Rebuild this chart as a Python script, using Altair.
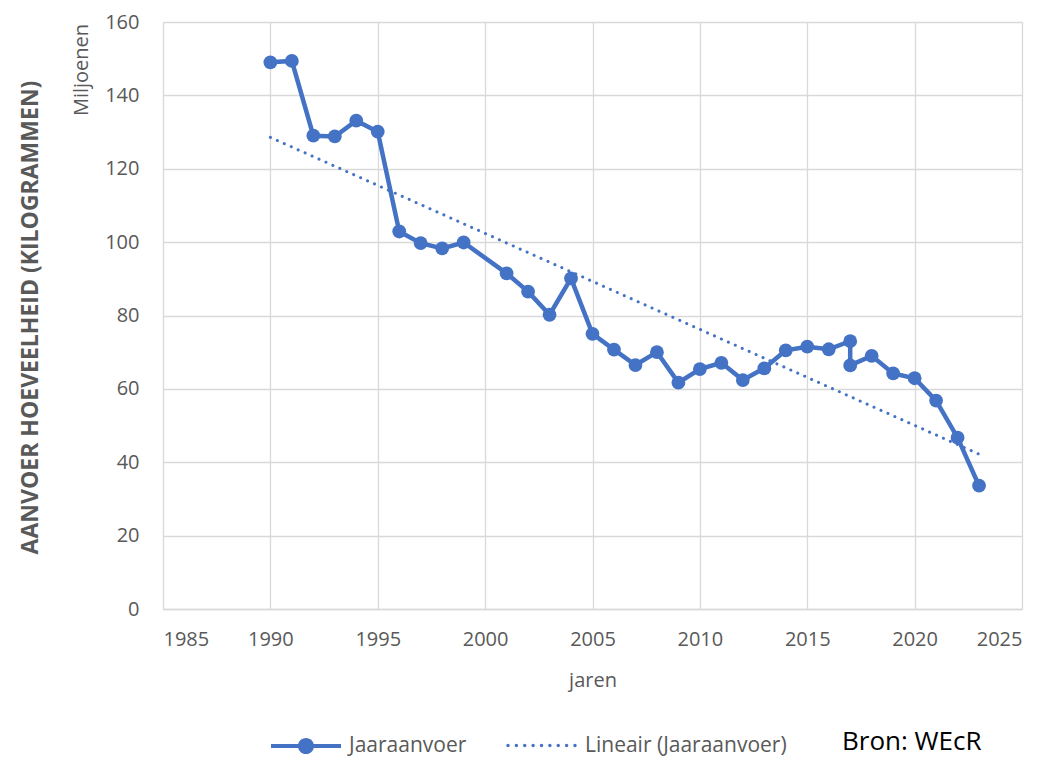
import altair as alt
import pandas as pd

years = [1990, 1991, 1992, 1993, 1994, 1995, 1996, 1997, 1998, 1999,
         2001, 2002, 2003, 2004, 2005, 2006, 2007, 2008, 2009, 2010,
         2011, 2012, 2013, 2014, 2015, 2016, 2017, 2017, 2018, 2019,
         2020, 2021, 2022, 2023]
values = [149.0, 149.4, 129.0, 128.8, 133.1, 130.1, 102.9, 99.7, 98.3, 99.9,
          91.5, 86.5, 80.2, 90.1, 75.0, 70.7, 66.5, 70.0, 61.7, 65.4,
          67.1, 62.4, 65.6, 70.5, 71.5, 70.8, 73.0, 66.4, 69.0, 64.2,
          62.9, 56.8, 46.7, 33.6]
order = list(range(len(years)))

x_ticks = [1985, 1990, 1995, 2000, 2005, 2010, 2015, 2020, 2025]
y_ticks = [0, 20, 40, 60, 80, 100, 120, 140, 160]

series_main = "Jaaraanvoer"
series_trend = "Lineair (Jaaraanvoer)"

BLUE = "#4472C4"
GRID = "#D9D9D9"
TXT = "#595959"
FONT = "Open Sans"

df = pd.DataFrame({"jaar": years, "waarde": values, "volgorde": order,
                   "reeks": [series_main] * len(years)})

x_enc = alt.X("jaar:Q", scale=alt.Scale(domain=[1985, 2025], nice=False, zero=False),
              axis=alt.Axis(values=x_ticks, format="d", title="jaren", grid=True,
                            gridColor=GRID, gridWidth=1.3, domain=True, domainColor=GRID,
                            domainWidth=1.5, ticks=False, labelPadding=20,
                            labelFontSize=20, labelColor=TXT, labelFont=FONT,
                            titleFontSize=20, titleColor=TXT, titleFont=FONT,
                            titleFontWeight="normal", titlePadding=21))
y_enc = alt.Y("waarde:Q", scale=alt.Scale(domain=[0, 160], nice=False),
              axis=alt.Axis(values=y_ticks, title="AANVOER HOEVEELHEID (KILOGRAMMEN)",
                            grid=True, gridColor=GRID, gridWidth=1.3, domain=False,
                            ticks=False, labelPadding=24, labelFontSize=20,
                            labelColor=TXT, labelFont=FONT,
                            titleFontSize=23, titleColor=TXT, titleFont=FONT,
                            titleFontWeight="bold", titleAngle=270,
                            titleX=-133, titleY=295, titleAlign="center",
                            titleBaseline="middle"))

line_sym = ("M-1,-0.057H1V0.057H-1Z "
            "M0,-0.23A0.23,0.23 0 1,1 0,0.23A0.23,0.23 0 1,1 0,-0.23Z")
dot_r = 0.05
dots = []
for i in range(9):
    cx = -1 + i * 0.25
    dots.append(f"M{cx:.3f},{-dot_r}A{dot_r},{dot_r} 0 1,1 {cx:.3f},{dot_r}"
                f"A{dot_r},{dot_r} 0 1,1 {cx:.3f},{-dot_r}Z")
dot_sym = " ".join(dots)

main_line = alt.Chart(df).mark_line(strokeWidth=4.5, color=BLUE).encode(
    x=x_enc, y=y_enc, order="volgorde:Q",
    color=alt.Color("reeks:N", scale=alt.Scale(domain=[series_main], range=[BLUE]),
                    legend=alt.Legend(title=None, orient="none", legendX=108, legendY=689,
                                      symbolType=line_sym, symbolSize=4900,
                                      symbolFillColor=BLUE, symbolStrokeWidth=0,
                                      symbolStrokeColor=BLUE, labelLimit=0,
                                      labelFontSize=21, labelColor=TXT, labelFont=FONT,
                                      labelOffset=8))
)

main_points = alt.Chart(df).mark_circle(size=190, color=BLUE, opacity=1).encode(
    x="jaar:Q", y="waarde:Q"
)

trend = alt.Chart(df).transform_regression(
    "jaar", "waarde", method="linear"
).transform_calculate(
    reeks2=f"'{series_trend}'"
).mark_line(strokeWidth=3, strokeCap="round", color=BLUE).encode(
    x="jaar:Q", y="waarde:Q",
    strokeDash=alt.StrokeDash("reeks2:N", scale=alt.Scale(domain=[series_trend], range=[[0.1, 7.5]]),
                              legend=alt.Legend(title=None, orient="none", legendX=345, legendY=690,
                                                symbolType=dot_sym, symbolSize=4489,
                                                symbolFillColor=BLUE, symbolStrokeWidth=0,
                                                symbolStrokeColor=BLUE, labelLimit=0,
                                                labelFontSize=21, labelColor=TXT, labelFont=FONT,
                                                labelOffset=10))
)

milj = alt.Chart(pd.DataFrame({"t": ["Miljoenen"]})).mark_text(
    angle=270, align="center", baseline="middle", fontSize=20, color=TXT, font=FONT
).encode(text="t:N", x=alt.value(-81), y=alt.value(48))

bron = alt.Chart(pd.DataFrame({"t": ["Bron: WEcR"]})).mark_text(
    align="left", baseline="middle", fontSize=26, color="#000000", font=FONT
).encode(text="t:N", x=alt.value(679), y=alt.value(720))

chart = alt.layer(main_line, trend, main_points, milj, bron).properties(
    width=859, height=587,
    autosize=alt.AutoSizeParams(type="none"),
    padding={"left": 155, "top": 14, "right": 20, "bottom": 152},
).configure_view(stroke=None).configure(background="white")

chart.save("out.html", embed_options={"renderer": "svg", "actions": False})
